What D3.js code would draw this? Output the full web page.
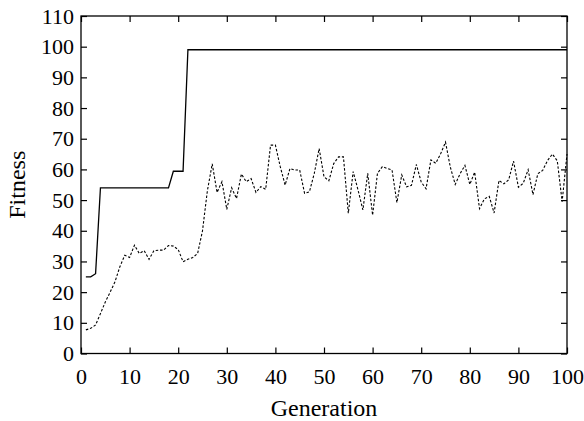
<!DOCTYPE html>
<html lang="en">
<head>
<meta charset="UTF-8">
<title>Fitness</title>
<style>
  body { margin: 0; background: #fff; }
</style>
</head>
<body>
<svg></svg>
<script src="https://d3js.org/d3.v7.min.js"></script>
<script>
var generations = d3.range(1, 101);

// best fitness (solid)
var bestFitness = [
  25, 25, 26, 54, 54, 54, 54, 54, 54, 54,
  54, 54, 54, 54, 54, 54, 54, 54, 59.4, 59.4,
  59.4, 99, 99, 99, 99, 99, 99, 99, 99, 99,
  99, 99, 99, 99, 99, 99, 99, 99, 99, 99,
  99, 99, 99, 99, 99, 99, 99, 99, 99, 99,
  99, 99, 99, 99, 99, 99, 99, 99, 99, 99,
  99, 99, 99, 99, 99, 99, 99, 99, 99, 99,
  99, 99, 99, 99, 99, 99, 99, 99, 99, 99,
  99, 99, 99, 99, 99, 99, 99, 99, 99, 99,
  99, 99, 99, 99, 99, 99, 99, 99, 99, 99
];

// average fitness (dotted)
var avgFitness = [
  7.7, 8.2, 9.3, 13, 16.8, 20, 23.4, 28.3, 32, 31.3,
  35.3, 32.6, 33.5, 30.7, 33.5, 33.7, 33.7, 35.2, 35, 33.9,
  29.9, 30.7, 31.3, 32.6, 40, 53, 61.8, 52.5, 56, 47,
  54, 50.5, 58.5, 56, 57, 52.5, 54.4, 53.5, 67.9, 67.9,
  60.9, 54.9, 60.3, 59.8, 59.8, 52.2, 52.7, 58.7, 66.8, 57.6,
  56.3, 61.9, 64.1, 64.1, 45.7, 59.3, 53.3, 46.8, 58.7, 45.1,
  58.7, 60.9, 60.3, 59.8, 49.2, 58.2, 54.3, 54.8, 61.6, 55.9,
  53.7, 63.1, 62, 65.1, 68.9, 60.7, 55.1, 58.6, 61.3, 55.1,
  59.1, 47.2, 50.4, 51.2, 45.8, 56.4, 55.3, 56.6, 62.7, 54.2,
  55.5, 59.9, 51.8, 58.6, 59.7, 62.9, 65, 62.8, 49.5, 65
];

var xTicks = d3.range(0, 101, 10);
var yTicks = d3.range(0, 111, 10);

var FONT = "'Liberation Serif', 'Times New Roman', Times, serif";
var FSIZE = "22px";
var W = 584, H = 421;
var marge = {top: 16, right: 17, bottom: 67.5, left: 81};
var svg = d3.select("svg").attr("width", W).attr("height", H);
var w = W - marge.left - marge.right;
var h = H - marge.top - marge.bottom;

var g = svg.append("g")
  .attr("transform", "translate(" + marge.left + "," + marge.top + ")");

var x = d3.scaleLinear().domain([0, 100]).range([0, w]);
var y = d3.scaleLinear().domain([0, 110]).range([h, 0]);

var tickLen = 6;

// axes with inward ticks, mirrored on all four sides
var axBottom = g.append("g").attr("transform", "translate(0," + h + ")")
  .call(d3.axisBottom(x).tickValues(xTicks).tickSizeInner(-tickLen).tickSizeOuter(0).tickPadding(15));
var axTop = g.append("g")
  .call(d3.axisTop(x).tickValues(xTicks).tickSizeInner(-tickLen).tickSizeOuter(0).tickFormat(""));
var axLeft = g.append("g")
  .call(d3.axisLeft(y).tickValues(yTicks).tickSizeInner(-tickLen).tickSizeOuter(0).tickPadding(7));
var axRight = g.append("g").attr("transform", "translate(" + w + ",0)")
  .call(d3.axisRight(y).tickValues(yTicks).tickSizeInner(-tickLen).tickSizeOuter(0).tickFormat(""));

[axBottom, axTop, axLeft, axRight].forEach(function(a){
  a.select(".domain").remove();
  a.selectAll("line").attr("stroke", "#000").attr("stroke-width", 1.2);
  a.selectAll("text")
    .style("font-size", FSIZE)
    .style("font-family", FONT)
    .attr("fill", "#000");
});

// frame
g.append("rect")
  .attr("x", 0).attr("y", 0)
  .attr("width", w).attr("height", h)
  .attr("fill", "none")
  .attr("stroke", "#000")
  .attr("stroke-width", 1.3);

var line = d3.line()
  .x(function(d, i){ return x(generations[i]); })
  .y(function(d){ return y(d); });

g.append("path")
  .datum(avgFitness)
  .attr("d", line)
  .attr("fill", "none")
  .attr("stroke", "#000")
  .attr("stroke-width", 1.1)
  .attr("stroke-dasharray", "2.5,1.8");

g.append("path")
  .datum(bestFitness)
  .attr("d", line)
  .attr("fill", "none")
  .attr("stroke", "#000")
  .attr("stroke-width", 1.3);

// labels
svg.append("text")
  .attr("x", marge.left + w / 2)
  .attr("y", 416)
  .attr("text-anchor", "middle")
  .style("font-size", "24px")
  .style("font-family", FONT)
  .text("Generation");

svg.append("text")
  .attr("transform", "translate(25," + (marge.top + h / 2) + ") rotate(-90)")
  .attr("text-anchor", "middle")
  .style("font-size", "24px")
  .style("font-family", FONT)
  .text("Fitness");
</script>
</body>
</html>
